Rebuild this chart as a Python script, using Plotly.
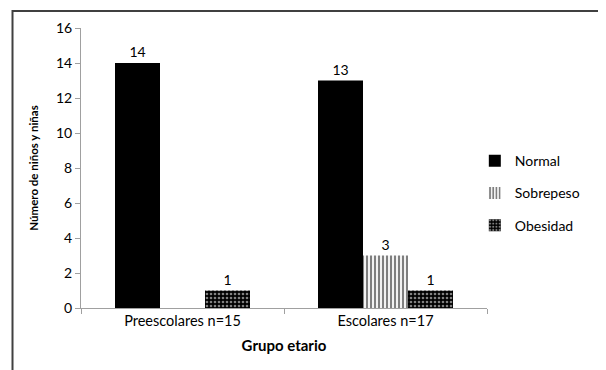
import plotly.graph_objects as go

categories = ["Preescolares n=15", "Escolares n=17"]
normal = [14, 13]
sobrepeso = [0, 3]
obesidad = [1, 1]
series_names = ["Normal", "Sobrepeso", "Obesidad"]
y_ticks = [0, 2, 4, 6, 8, 10, 12, 14, 16]

def labels(vals):
    return [str(v) if v else "" for v in vals]

font_family = "Lato, Open Sans, sans-serif"

fig = go.Figure()
fig.add_trace(go.Bar(
    x=categories, y=normal, name=series_names[0],
    text=labels(normal), textposition="outside",
    marker=dict(color="black", line=dict(width=0)),
    legendgroup="a",
))
fig.add_trace(go.Bar(
    x=categories, y=sobrepeso, name=series_names[1],
    text=labels(sobrepeso), textposition="outside",
    marker=dict(color="black", line=dict(width=0),
                pattern=dict(shape="|", fgcolor="black", bgcolor="white",
                             size=4, solidity=0.55)),
    legendgroup="b",
))
fig.add_trace(go.Bar(
    x=categories, y=obesidad, name=series_names[2],
    text=labels(obesidad), textposition="outside",
    marker=dict(color="black", line=dict(width=0),
                pattern=dict(shape=".", fgcolor="white", bgcolor="black",
                             size=4, solidity=0.35)),
    legendgroup="c",
))

fig.update_traces(textfont=dict(family=font_family, size=14, color="black"),
                  cliponaxis=False)

fig.update_layout(
    width=606, height=370,
    margin=dict(l=73, r=127, t=20, b=70, autoexpand=False),
    paper_bgcolor="white", plot_bgcolor="white",
    barmode="group", bargap=0.335, bargroupgap=0,
    font=dict(family=font_family, size=14, color="black"),
    showlegend=True,
    legend=dict(x=0.97, xanchor="left", y=0.41, yanchor="middle",
                tracegroupgap=11, traceorder="grouped",
                font=dict(family=font_family, size=14, color="black"),
                itemwidth=30, bgcolor="rgba(0,0,0,0)"),
    xaxis=dict(
        automargin=False,
        showline=True, linecolor="#a0a0a0", linewidth=1,
        ticks="outside", tickson="boundaries", ticklen=5, tickcolor="#a0a0a0",
        showgrid=False,
        title=dict(text="<b>Grupo etario</b>", font=dict(size=15), standoff=12),
        tickfont=dict(size=14.5),
    ),
    yaxis=dict(
        automargin=False,
        range=[0, 16], tickvals=y_ticks,
        showline=True, linecolor="#a0a0a0", linewidth=1,
        ticks="outside", ticklen=5, tickcolor="#a0a0a0",
        showgrid=False, zeroline=False,
        title=dict(text="<b>Número de niños y niñas</b>", font=dict(size=11.5), standoff=14),
        tickfont=dict(size=14),
    ),
    shapes=[dict(type="rect", xref="paper", yref="paper",
                 x0=-0.1687, x1=1.278, y0=-0.25, y1=1.0607,
                 line=dict(color="#404040", width=2), layer="below")],
)

fig.write_html("out.html")
